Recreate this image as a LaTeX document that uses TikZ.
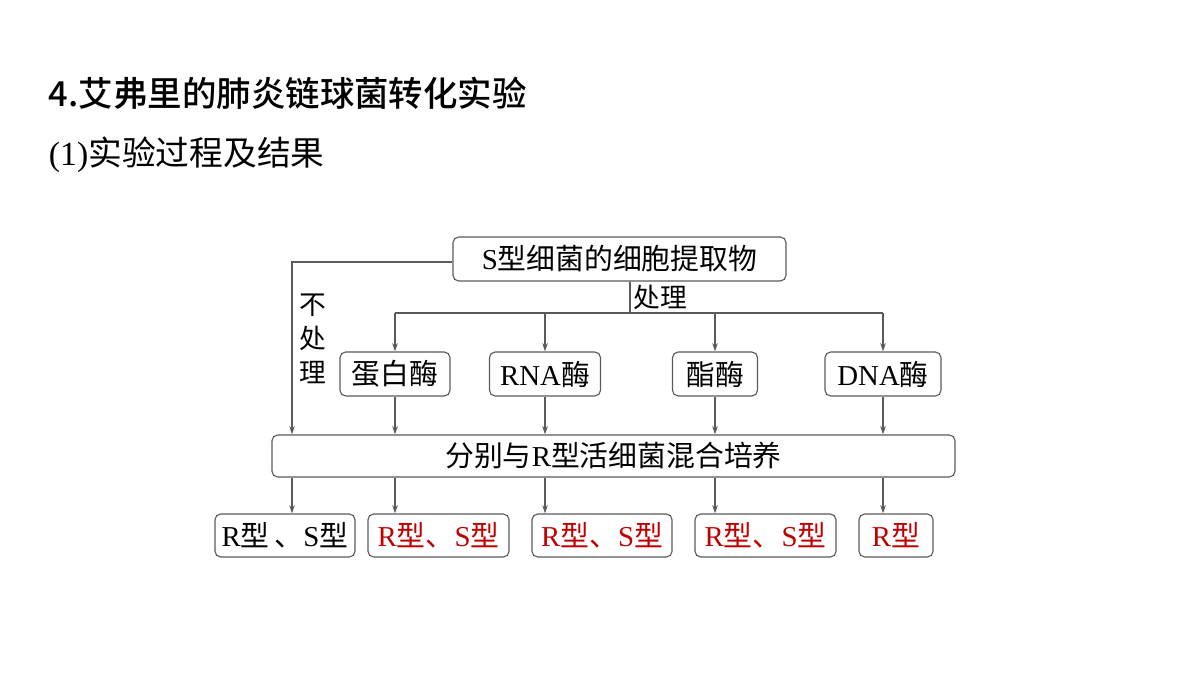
\documentclass[tikz,border=0pt]{standalone}
\usepackage{fontspec}
\setmainfont{Liberation Serif}
\newfontfamily\cjk{Noto Sans CJK SC}
\newfontfamily\cjkmed{Noto Sans CJK SC Medium}
\usetikzlibrary{positioning,arrows.meta}
\newcommand{\zh}[1]{{\cjk #1}}
\definecolor{redtxt}{RGB}{192,0,0}
\definecolor{linegray}{RGB}{90,90,90}

\begin{document}
\begin{tikzpicture}[x=0.025cm,y=-0.025cm,
    box/.style={draw=linegray,thick,rounded corners=4pt,inner sep=0pt,font=\fontsize{20.5}{20.5}\selectfont},
    conn/.style={draw=linegray,thick,-{Stealth[length=6pt,width=4pt]}},
    wire/.style={draw=linegray,thick}]
    \useasboundingbox (0,0) rectangle (1200,676);

    % headings
    \node[anchor=west,font=\cjkmed\fontsize{24.5}{24.5}\selectfont] (title) at (44,93) {4.艾弗里的肺炎链球菌转化实验};
    \node[anchor=west,font=\fontsize{24}{24}\selectfont] (sub) at (44,155) {(1)\zh{实验过程及结果}};

    % top extract box
    \node[box,minimum width=333*0.025cm,minimum height=44*0.025cm] (s) at (619.5,259) {S\zh{型细菌的细胞提取物}};

    % enzyme boxes
    \node[box,minimum width=110*0.025cm,minimum height=44*0.025cm] (e1) at (395,374) {\zh{蛋白酶}};
    \node[box,minimum width=111*0.025cm,minimum height=44*0.025cm] (e2) at (545,374) {RNA\zh{酶}};
    \node[box,minimum width=85*0.025cm,minimum height=44*0.025cm] (e3) at (715,374) {\zh{酯酶}};
    \node[box,minimum width=116*0.025cm,minimum height=44*0.025cm] (e4) at (883,374) {DNA\zh{酶}};

    % mixing box
    \node[box,minimum width=683*0.025cm,minimum height=42*0.025cm] (mix) at (613.5,456) {\zh{分别与}R\zh{型活细菌混合培养}};

    % result boxes
    \node[box,minimum width=140*0.025cm,minimum height=43*0.025cm] (r0) at (285,535.5) {R\zh{型}\,\zh{、}S\zh{型}};
    \node[box,text=redtxt,minimum width=141*0.025cm,minimum height=43*0.025cm] (r1) at (438.5,535.5) {R\zh{型、}S\zh{型}};
    \node[box,text=redtxt,minimum width=140*0.025cm,minimum height=43*0.025cm] (r2) at (602,535.5) {R\zh{型、}S\zh{型}};
    \node[box,text=redtxt,minimum width=141*0.025cm,minimum height=43*0.025cm] (r3) at (765.5,535.5) {R\zh{型、}S\zh{型}};
    \node[box,text=redtxt,minimum width=74*0.025cm,minimum height=43*0.025cm] (r4) at (896,535.5) {R\zh{型}};

    % untreated branch
    \coordinate (bend) at (292,262);
    \draw[conn] (s.west |- bend) -- (bend) -- (bend |- mix.north);
    \node[font=\cjk\fontsize{19}{19}\selectfont,align=center,inner sep=0pt] (none) at (313,339) {不\\[5pt]处\\[5pt]理};

    % treated branch
    \coordinate (split) at (630,313);
    \draw[wire] (split |- s.south) -- (split);
    \node[anchor=south west,font=\cjk\fontsize{19}{19}\selectfont,inner sep=1pt] (treat) at (632,311) {处理};
    \draw[wire] (e1.north |- split) -- (e4.north |- split);
    \foreach \e in {e1,e2,e3,e4}
        \draw[conn] (\e.north |- split) -- (\e.north);
    \foreach \e in {e1,e2,e3,e4}
        \draw[conn] (\e.south) -- (\e.south |- mix.north);

    % results
    \draw[conn] (bend |- mix.south) -- (bend |- r0.north);
    \foreach \e/\r in {e1/r1,e2/r2,e3/r3,e4/r4}
        \draw[conn] (\e.south |- mix.south) -- (\e.south |- \r.north);
\end{tikzpicture}
\end{document}
